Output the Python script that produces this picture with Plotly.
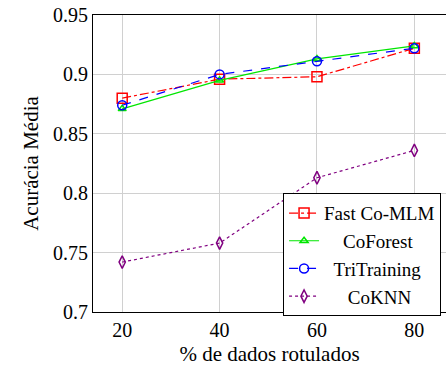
import plotly.graph_objects as go

x_pct = [20, 40, 60, 80]
fast_comlm = [0.880, 0.896, 0.898, 0.922]
coforest = [0.871, 0.895, 0.913, 0.924]
tritraining = [0.874, 0.900, 0.911, 0.922]
coknn = [0.742, 0.758, 0.813, 0.836]

x_ticks = [20, 40, 60, 80]
y_ticks = [0.7, 0.75, 0.8, 0.85, 0.9, 0.95]
y_tick_labels = ["0.7", "0.75", "0.8", "0.85", "0.9", "0.95"]

NB = "\u00a0"
series = [
    ("Fast Co-MLM", fast_comlm, "#ff0000", "dashdot", "square-open", 10),
    (NB * 4 + "CoForest", coforest, "#00e600", "solid", "triangle-up-open", 7),
    (NB * 2 + "TriTraining", tritraining, "#0000ff", "dash", "circle-open", 9),
    (NB * 5 + "CoKNN", coknn, "#800080", "dot", "diamond-tall-open", 9),
]

fig = go.Figure()
for name, ys, color, dash, sym, size in series:
    fig.add_trace(go.Scatter(
        x=x_pct, y=ys, name=name, mode="lines+markers",
        line=dict(color=color, dash=dash, width=1.2),
        marker=dict(symbol=sym, size=size, color=color, line=dict(color=color, width=1.5)),
    ))

font_family = "Liberation Serif"
fig.update_layout(
    width=446, height=372,
    margin=dict(l=93, r=0, t=15, b=60),
    paper_bgcolor="white", plot_bgcolor="white",
    font=dict(family=font_family, size=20, color="black"),
    showlegend=True,
    legend=dict(
        x=0.986, y=0.40, xanchor="right", yanchor="top",
        bgcolor="white", bordercolor="black", borderwidth=1,
        font=dict(family=font_family, size=19, color="black"),
        tracegroupgap=0, itemwidth=30,
    ),
)
fig.update_xaxes(
    range=[14, 86.5], tickvals=x_ticks, ticktext=[str(v) for v in x_ticks],
    showgrid=True, gridcolor="#d0d0d0", gridwidth=1,
    showline=True, linecolor="black", linewidth=1, mirror=True,
    zeroline=False, ticks="",
    title=dict(text="% de dados rotulados", font=dict(family=font_family, size=21), standoff=6),
    tickfont=dict(family=font_family, size=20),
)
fig.update_yaxes(
    range=[0.7, 0.95], tickvals=y_ticks, ticktext=y_tick_labels,
    showgrid=True, gridcolor="#d0d0d0", gridwidth=1,
    showline=True, linecolor="black", linewidth=1, mirror=False,
    zeroline=False, ticks="",
    title=dict(text="Acurácia Média", font=dict(family=font_family, size=21), standoff=8),
    tickfont=dict(family=font_family, size=20),
)

fig.write_html("out.html")
